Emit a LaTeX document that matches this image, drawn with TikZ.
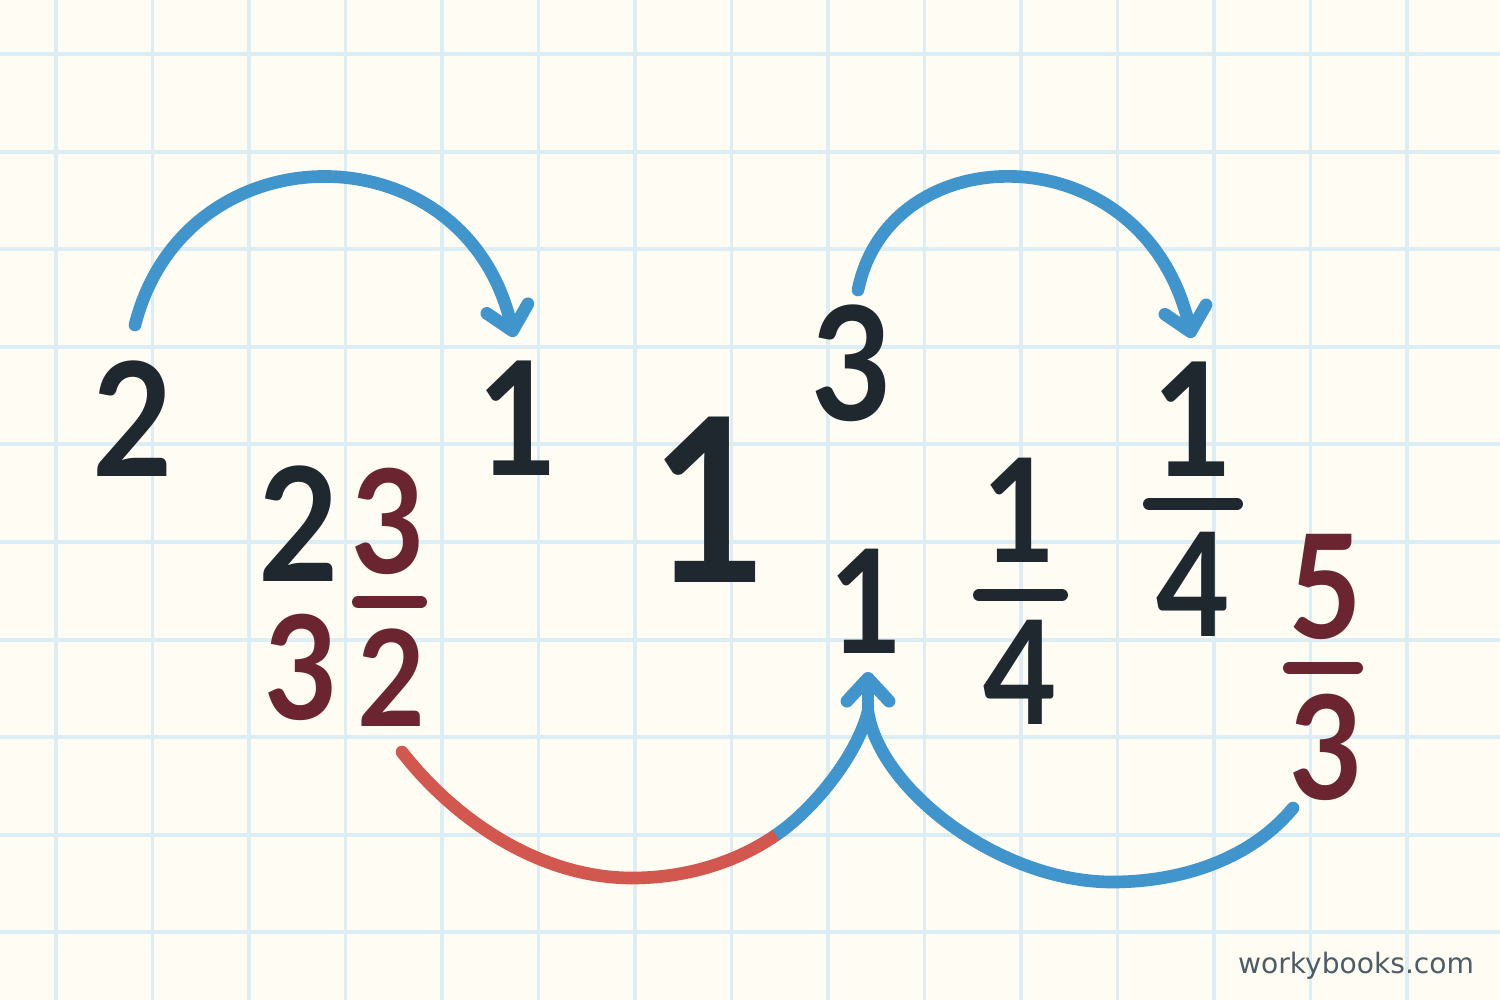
\documentclass[tikz,border=0pt]{standalone}
\usepackage{fontspec}
\setmainfont{Lato}
\newfontfamily\digitfont{Lato}[FakeStretch=0.88]
\newfontfamily\sitefont{DejaVu Sans}
\usetikzlibrary{arrows.meta, positioning}
\definecolor{paper}{HTML}{FFFDF3}
\definecolor{gridblue}{HTML}{DCEDF3}
\definecolor{ink}{HTML}{1F282F}
\definecolor{wine}{HTML}{6A2530}
\definecolor{hopblue}{HTML}{3F95CC}
\definecolor{hopred}{HTML}{D2584F}
\definecolor{sitegray}{HTML}{4D5D68}
\newcommand\numsize[1]{\digitfont\fontsize{#1pt}{#1pt}\selectfont\bfseries}

\begin{document}
\begin{tikzpicture}[
    x=0.01cm, y=-0.01cm,
    gridline/.style={draw=gridblue, line width=1.1pt},
    num/.style={inner sep=0pt, text=ink, font=\numsize{45}},
    winenum/.style={num, text=wine, font=\numsize{41}},
    fracbar/.style={line width=3.4pt, line cap=round},
    hop/.style={draw=hopblue, line width=3.6pt, line cap=round},
    hoptip/.style={-{Straight Barb[length=6.5pt, width=12pt, round]}},
]
\useasboundingbox[fill=paper] (0,0) rectangle (1500,1000);
% squared paper
\foreach \i in {0,...,14}
    \draw[gridline] ({56+96.5*\i},0) -- ({56+96.5*\i},1000);
\foreach \j in {0,...,9}
    \draw[gridline] (0,{54+97.6*\j}) -- (1500,{54+97.6*\j});

% numbers
\node[num] (two) at (133,419) {2};
\node[num] (oneA) at (518,418) {1};
\node[num, font=\numsize{65}] (bigone) at (710,500) {1};
\node[num] (three) at (852,363) {3};
\node[num, font=\numsize{41}] (oneB) at (866,601) {1};
\node[num] (twoB) at (299,524) {2};
\node[winenum] (threeB) at (301,667) {3};

% fractions
\node[winenum] (thnum) at (388,521) {3};
\node[winenum, font=\numsize{38}] (thden) at (392,678) {2};
\draw[fracbar, wine] (358,602) -- (421,602);
\node[num, font=\numsize{41}] (qnumA) at (1019,510) {1};
\node[num, font=\numsize{41}] (qdenA) at (1020,672) {4};
\draw[fracbar, ink] (979,595) -- (1062,595);
\node[num] (qnumB) at (1193,419) {1};
\node[num, font=\numsize{41}] (qdenB) at (1193,584) {4};
\draw[fracbar, ink] (1149,504) -- (1237,504);
\node[winenum] (fnum) at (1325,587) {5};
\node[winenum] (fden) at (1326,747) {3};
\draw[fracbar, wine] (1289,668) -- (1357,668);

% hops
\coordinate (hopAs) at (135,325);
\coordinate (hopAt) at (514,337);
\coordinate (hopBs) at (858,290);
\coordinate (hopBt) at (1192,338);
\coordinate (hopCs) at (402,752);
\coordinate (hopCm) at (776,835);
\coordinate (hopDs) at (1293,808);
\coordinate (cusp) at (868,712);
\coordinate (tip) at (868,672);
\draw[hop, hoptip] (hopAs) .. controls (185,127) and (465,127) .. (hopAt);
\draw[hop, hoptip] (hopBs) .. controls (890,133) and (1145,133) .. (hopBt);
\draw[hop, draw=hopred] (hopCs) .. controls (455,820) and (540,878) .. (632,878)
    .. controls (690,878) and (740,860) .. (hopCm);
\draw[hop, line cap=butt] (hopCm) .. controls (810,812) and (855,760) .. (cusp);
\draw[hop] (hopDs) .. controls (1250,860) and (1180,882) .. (1112,882)
    .. controls (1000,882) and (880,790) .. (cusp);
\draw[hop, hoptip] (cusp) -- (tip);

\node[font=\sitefont\fontsize{8pt}{8pt}\selectfont, text=sitegray, anchor=base] (site) at (1356,973) {workybooks.com};
\end{tikzpicture}
\end{document}
